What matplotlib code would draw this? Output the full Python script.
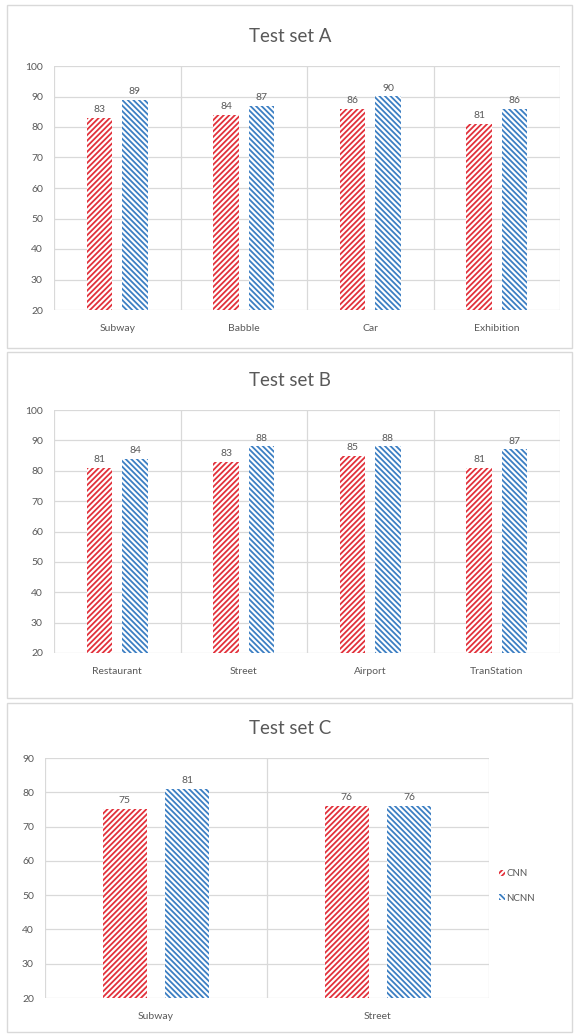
import matplotlib
matplotlib.use("Agg")
import matplotlib.pyplot as plt
from matplotlib.patches import Rectangle, Patch
import numpy as np

plt.rcParams['font.family'] = ['Lato', 'DejaVu Sans']
plt.rcParams['hatch.linewidth'] = 1.3

# ---- data ----
titles = ["Test set A", "Test set B", "Test set C"]
cats_a = ["Subway", "Babble", "Car", "Exhibition"]
cnn_a = [83, 84, 86, 81]
ncnn_a = [89, 87, 90, 86]
cats_b = ["Restaurant", "Street", "Airport", "TranStation"]
cnn_b = [81, 83, 85, 81]
ncnn_b = [84, 88, 88, 87]
cats_c = ["Subway", "Street"]
cnn_c = [75, 76]
ncnn_c = [81, 76]
series_names = ["CNN", "NCNN"]

RED = '#e2313b'
BLUE = '#3c7fc3'
GRID = '#d9d9d9'
TXT = '#595959'
HR = '//////'
HB = '\\\\\\\\\\\\'

W, H = 574, 1035
fig = plt.figure(figsize=(W / 100, H / 100), dpi=100)

def fx(x): return x / W
def fy(y): return 1 - y / H

# panel borders
for (top, bot) in [(5, 348), (352, 698), (703, 1032)]:
    fig.patches.append(Rectangle((fx(7), fy(bot)), fx(572) - fx(7), fy(top) - fy(bot),
                                 transform=fig.transFigure, fill=False,
                                 edgecolor=GRID, linewidth=1.0))

def panel(rect, cats, cnn, ncnn, ylim, title, title_y, lbl_size=7.5):
    ax = fig.add_axes(rect)
    n = len(cats)
    x = np.arange(n)
    w = 0.2
    off = 0.14
    b1 = ax.bar(x - off, np.array(cnn) - ylim[0], bottom=ylim[0], width=w,
                facecolor='white', edgecolor=RED, hatch=HR, linewidth=0, zorder=3)
    b2 = ax.bar(x + off, np.array(ncnn) - ylim[0], bottom=ylim[0], width=w,
                facecolor='white', edgecolor=BLUE, hatch=HB, linewidth=0, zorder=3)
    for xi, v in zip(x - off, cnn):
        ax.text(xi, v + 1.2, str(v), ha='center', va='bottom', fontsize=lbl_size, color=TXT)
    for xi, v in zip(x + off, ncnn):
        ax.text(xi, v + 1.2, str(v), ha='center', va='bottom', fontsize=lbl_size, color=TXT)
    ax.set_xlim(-0.5, n - 0.5)
    ax.set_ylim(*ylim)
    ax.set_yticks(np.arange(ylim[0], ylim[1] + 1, 10))
    ax.set_xticks(x)
    ax.set_xticklabels(cats)
    for b in np.arange(-0.5, n, 1.0):
        ax.axvline(b, color=GRID, linewidth=0.9, zorder=1)
    ax.grid(axis='y', color=GRID, linewidth=0.9, zorder=1)
    for s in ax.spines.values():
        s.set_visible(False)
    ax.tick_params(length=0, labelsize=7.5, labelcolor=TXT, pad=8)
    ax.tick_params(axis='x', pad=10)
    fig.text(0.505, fy(title_y), title, ha='center', va='center', fontsize=13.5, color=TXT)
    return ax, b1, b2

panel([fx(54), fy(310), fx(560) - fx(54), fy(66) - fy(310)],
      cats_a, cnn_a, ncnn_a, (20, 100), titles[0], 36)
panel([fx(54), fy(653), fx(560) - fx(54), fy(410) - fy(653)],
      cats_b, cnn_b, ncnn_b, (20, 100), titles[1], 381)
axc, b1, b2 = panel([fx(45), fy(998), fx(489) - fx(45), fy(758) - fy(998)],
                    cats_c, cnn_c, ncnn_c, (20, 90), titles[2], 729)

handles = [Patch(facecolor='white', edgecolor=RED, hatch=HR, linewidth=0),
           Patch(facecolor='white', edgecolor=BLUE, hatch=HB, linewidth=0)]
fig.legend(handles, series_names, loc='center left', bbox_to_anchor=(fx(490), fy(886)),
           frameon=False, fontsize=7, labelcolor=TXT, handlelength=0.6, handleheight=0.6,
           handletextpad=0.2, labelspacing=1.6)

fig.savefig('out.png', dpi=100)
